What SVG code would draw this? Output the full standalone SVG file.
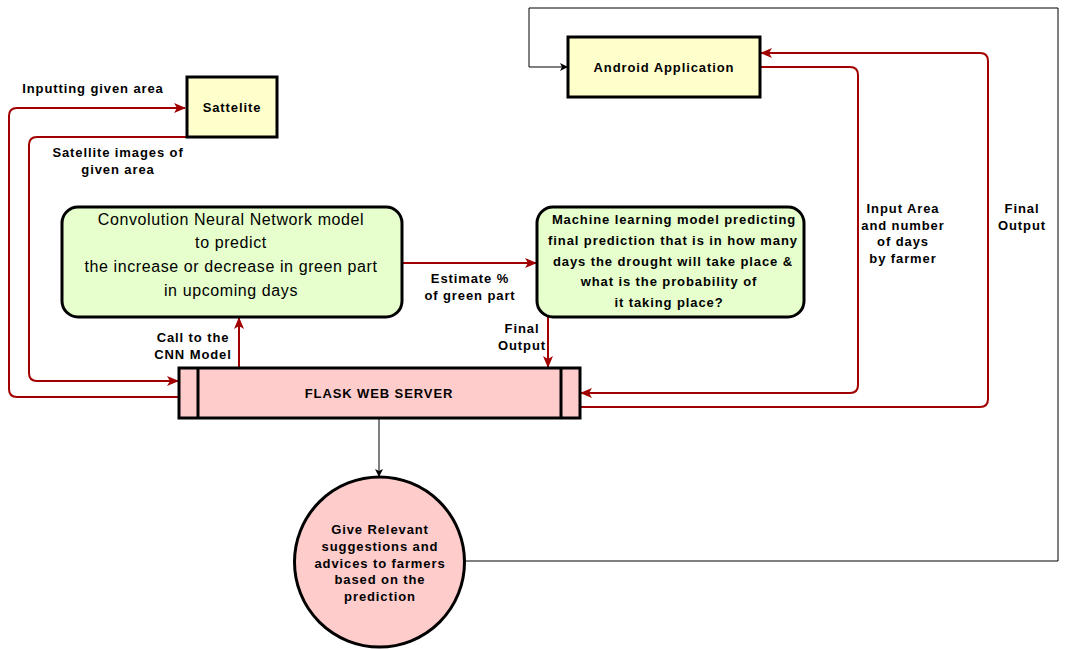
<svg xmlns="http://www.w3.org/2000/svg" width="1067" height="649" viewBox="0 0 1067 649">
<defs>
<style>
.lbl{font-family:"Liberation Sans",Arial,sans-serif;font-size:13px;font-weight:bold;fill:#000;text-anchor:middle;letter-spacing:0.9px}
.cnn{font-family:"Liberation Sans",Arial,sans-serif;font-size:16px;fill:#000;text-anchor:middle;letter-spacing:0.6px}
.red{fill:none;stroke:#a20000;stroke-width:2}
.blk{fill:none;stroke:#000;stroke-width:1}
.box{stroke:#000;stroke-width:3}
</style>
<marker id="ar" viewBox="0 0 12 10" refX="11" refY="5" markerWidth="12" markerHeight="10" markerUnits="userSpaceOnUse" orient="auto">
<path d="M0,0 L12,5 L0,10 L3,5 Z" fill="#a20000"/>
</marker>
<marker id="ab" viewBox="0 0 8 8" refX="7" refY="4" markerWidth="8" markerHeight="8" markerUnits="userSpaceOnUse" orient="auto">
<path d="M0,0 L8,4 L0,8 L2,4 Z" fill="#000"/>
</marker>
</defs>
<rect width="1067" height="649" fill="#fff"/>
<g id="connectors">
<path class="red" d="M179,397 H17 Q9,397 9,389 V116 Q9,108 17,108 H185" marker-end="url(#ar)"/>
<path class="red" d="M209,137 H37 Q29,137 29,145 V373 Q29,381 37,381 H178" marker-end="url(#ar)"/>
<path class="red" d="M239,368 V318" marker-end="url(#ar)"/>
<path class="red" d="M402,263 H536" marker-end="url(#ar)"/>
<path class="red" d="M548,317 V367" marker-end="url(#ar)"/>
<path class="red" d="M760,67 H850 Q858,67 858,75 V385 Q858,393 850,393 H581" marker-end="url(#ar)"/>
<path class="red" d="M580,407 H980 Q988,407 988,399 V61 Q988,53 980,53 H761" marker-end="url(#ar)"/>
<path class="blk" d="M379,419 V476" marker-end="url(#ab)"/>
<path class="blk" d="M466,561 H1058 V8 H529 V67 H567" marker-end="url(#ab)" stroke="#333"/>
<text class="lbl" x="93" y="93">Inputting given area</text>
<text class="lbl" x="118" y="157">Satellite images of</text>
<text class="lbl" x="118" y="174">given area</text>
<text class="lbl" x="193" y="342">Call to the</text>
<text class="lbl" x="193" y="359">CNN Model</text>
<text class="lbl" x="470" y="283">Estimate %</text>
<text class="lbl" x="470" y="300">of green part</text>
<text class="lbl" x="522" y="333">Final</text>
<text class="lbl" x="522" y="350">Output</text>
<text class="lbl" x="903" y="213">Input Area</text>
<text class="lbl" x="903" y="230">and number</text>
<text class="lbl" x="903" y="246">of days</text>
<text class="lbl" x="903" y="263">by farmer</text>
<text class="lbl" x="1022" y="213">Final</text>
<text class="lbl" x="1022" y="230">Output</text>
</g>
<g id="sattelite">
<rect class="box" x="187" y="77" width="90" height="60" fill="#ffffcc"/>
<text class="lbl" x="232" y="112">Sattelite</text>
</g>
<g id="android">
<rect class="box" x="568" y="37" width="192" height="60" fill="#ffffcc"/>
<text class="lbl" x="664" y="72">Android Application</text>
</g>
<g id="cnn">
<rect class="box" x="62" y="207" width="340" height="110" rx="16" fill="#e6ffcc"/>
<text class="cnn" x="231" y="225">Convolution Neural Network model</text>
<text class="cnn" x="231" y="248">to predict</text>
<text class="cnn" x="231" y="272">the increase or decrease in green part</text>
<text class="cnn" x="231" y="296">in upcoming days</text>
</g>
<g id="ml">
<rect class="box" x="537" y="207" width="267" height="110" rx="16" fill="#e6ffcc"/>
<text class="lbl" x="674" y="224">Machine learning model predicting</text>
<text class="lbl" x="673" y="245">final prediction that is in how many</text>
<text class="lbl" x="673" y="266">days the drought will take place &amp;</text>
<text class="lbl" x="669" y="286">what is the probability of</text>
<text class="lbl" x="669" y="307">it taking place?</text>
</g>
<g id="flask">
<rect class="box" x="179" y="368" width="401" height="50" fill="#ffcccc"/>
<line class="box" x1="198" y1="368" x2="198" y2="418"/>
<line class="box" x1="561" y1="368" x2="561" y2="418"/>
<text class="lbl" x="379" y="398">FLASK WEB SERVER</text>
</g>
<g id="advice">
<circle class="box" cx="379.5" cy="562" r="85" fill="#ffcccc"/>
<text class="lbl" x="380" y="534">Give Relevant</text>
<text class="lbl" x="380" y="551">suggestions and</text>
<text class="lbl" x="380" y="568">advices to farmers</text>
<text class="lbl" x="380" y="584">based on the</text>
<text class="lbl" x="380" y="601">prediction</text>
</g>
</svg>
